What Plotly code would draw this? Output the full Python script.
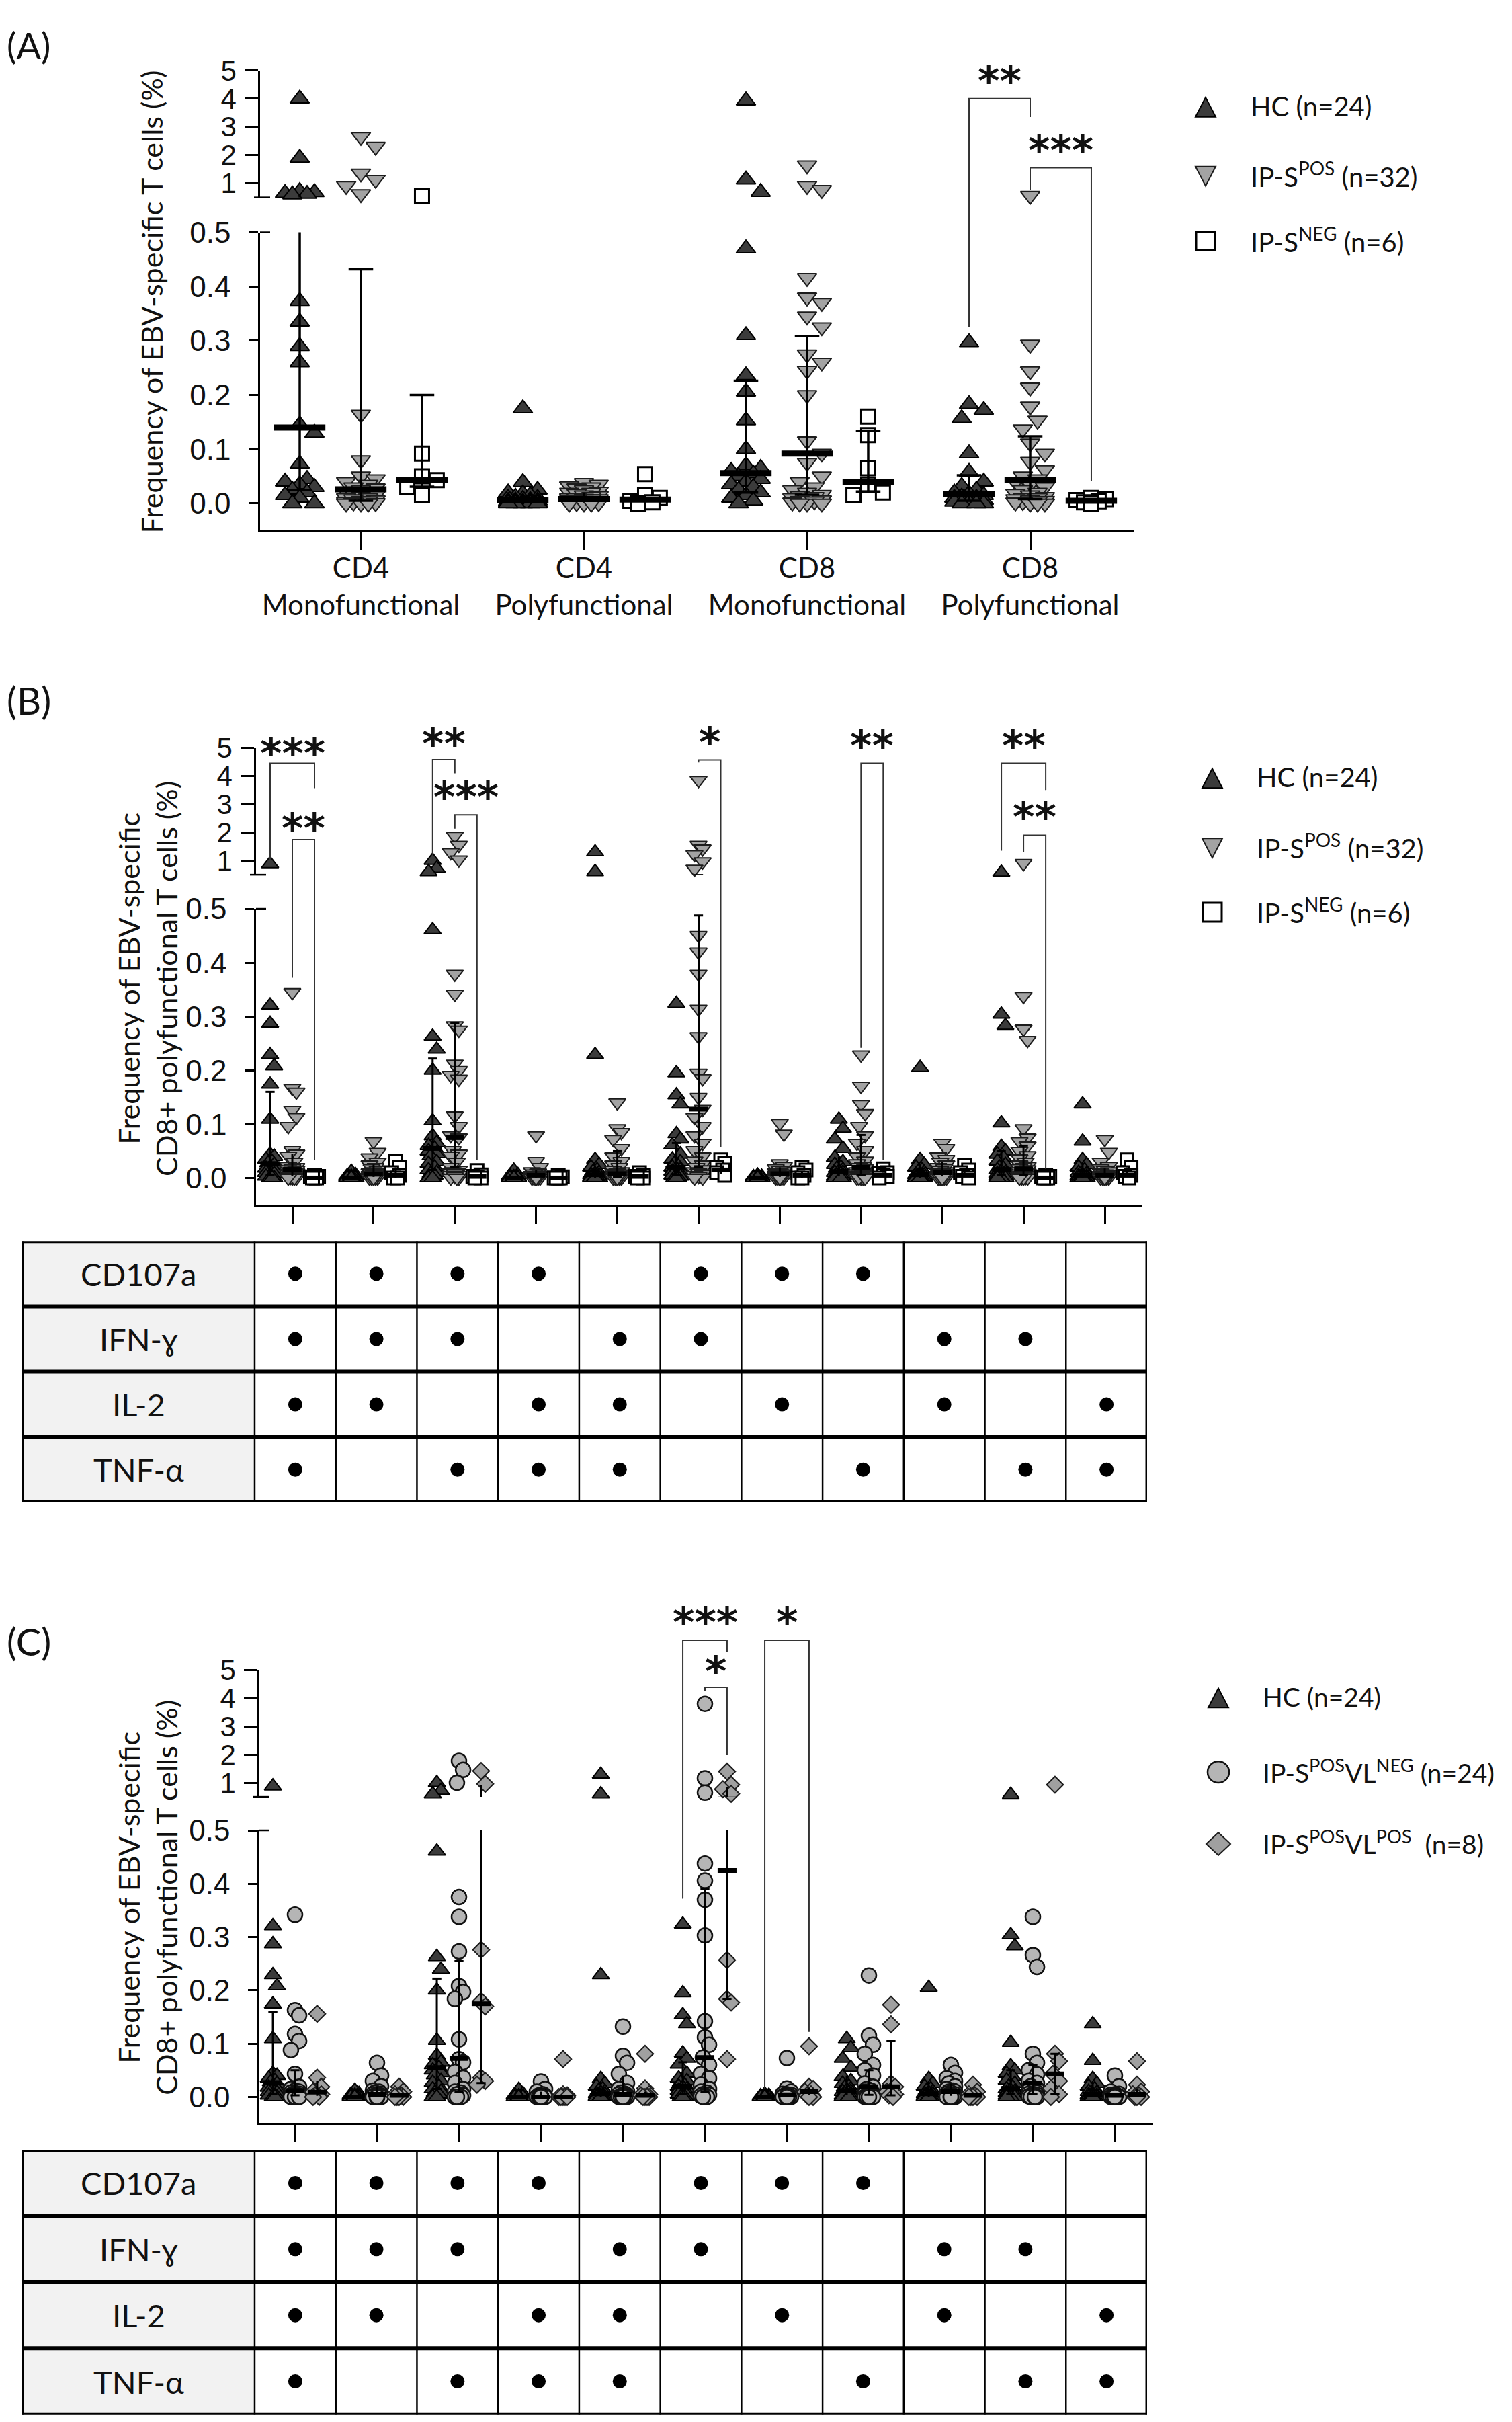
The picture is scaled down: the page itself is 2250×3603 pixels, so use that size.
import math
import plotly.graph_objects as go

W, H = 2250, 3603

# ---------------------------------------------------------------
# values (frequency of EBV-specific T cells, %)
# ---------------------------------------------------------------
A_CATS = ["CD4<br>Monofunctional", "CD4<br>Polyfunctional",
          "CD8<br>Monofunctional", "CD8<br>Polyfunctional"]

A_HC = [
    [4.0, 1.9, 0.72, 0.68, 0.65, 0.62, 0.6, 0.373, 0.335, 0.29, 0.26, 0.145, 0.13, 0.073,
     0.045, 0.04, 0.035, 0.03, 0.025, 0.02, 0.015, 0.01, 0.0, 0.0],
    [0.175, 0.039, 0.025, 0.02, 0.018, 0.015, 0.012, 0.01, 0.01, 0.008, 0.006, 0.005,
     0.005, 0.004, 0.003, 0.003, 0.002, 0.002, 0.001, 0.0, 0.0, 0.0, 0.0, 0.0],
    [3.93, 1.13, 0.69, 0.47, 0.31, 0.236, 0.206, 0.153, 0.1, 0.07, 0.065, 0.06, 0.055,
     0.05, 0.045, 0.04, 0.035, 0.03, 0.025, 0.02, 0.015, 0.01, 0.005, 0.0],
    [0.297, 0.183, 0.172, 0.157, 0.092, 0.058, 0.04, 0.032, 0.025, 0.02, 0.018, 0.015,
     0.012, 0.01, 0.01, 0.008, 0.006, 0.005, 0.004, 0.003, 0.002, 0.0, 0.0, 0.0],
]
A_POS = [
    [2.65, 2.3, 1.35, 1.13, 0.91, 0.62, 0.164, 0.08, 0.05, 0.045, 0.04, 0.035, 0.03, 0.028,
     0.025, 0.022, 0.02, 0.018, 0.015, 0.012, 0.01, 0.01, 0.008, 0.006, 0.005, 0.004,
     0.003, 0.002, 0.001, 0.0, 0.0, 0.0],
    [0.038, 0.035, 0.032, 0.03, 0.028, 0.025, 0.022, 0.02, 0.02, 0.018, 0.015, 0.014,
     0.012, 0.01, 0.01, 0.009, 0.008, 0.008, 0.007, 0.006, 0.005, 0.005, 0.004, 0.003,
     0.003, 0.002, 0.002, 0.001, 0.001, 0.0, 0.0, 0.0],
    [1.64, 0.91, 0.77, 0.416, 0.38, 0.37, 0.345, 0.325, 0.275, 0.26, 0.245, 0.2, 0.115,
     0.092, 0.075, 0.05, 0.04, 0.03, 0.025, 0.02, 0.016, 0.014, 0.012, 0.01, 0.008, 0.006,
     0.005, 0.004, 0.002, 0.0, 0.0, 0.0],
    [0.56, 0.293, 0.244, 0.214, 0.179, 0.153, 0.137, 0.111, 0.092, 0.077, 0.062, 0.05,
     0.045, 0.04, 0.035, 0.03, 0.025, 0.02, 0.018, 0.015, 0.012, 0.01, 0.01, 0.008, 0.006,
     0.005, 0.004, 0.003, 0.002, 0.0, 0.0, 0.0],
]
A_NEG = [
    [0.56, 0.092, 0.05, 0.043, 0.031, 0.016],
    [0.054, 0.015, 0.01, 0.005, 0.002, 0.0],
    [0.16, 0.126, 0.065, 0.035, 0.02, 0.016],
    [0.01, 0.008, 0.006, 0.004, 0.002, 0.0],
]
A_HC_MED = [0.14, 0.006, 0.056, 0.018]
A_HC_Q1 = [0.025, 0.0, 0.02, 0.005]
A_HC_Q3 = [0.62, 0.015, 0.226, 0.052]
A_POS_MED = [0.026, 0.008, 0.092, 0.043]
A_POS_Q1 = [0.005, 0.002, 0.016, 0.008]
A_POS_Q3 = [0.432, 0.02, 0.309, 0.124]
A_NEG_MED = [0.043, 0.007, 0.039, 0.005]
A_NEG_Q1 = [0.031, 0.002, 0.022, 0.002]
A_NEG_Q3 = [0.2, 0.012, 0.134, 0.008]

# panels B and C: 11 cytokine combinations; the HC column is the same in both
B_HC = [
    [0.88, 0.321, 0.287, 0.229, 0.208, 0.174, 0.109, 0.044, 0.04, 0.035, 0.03, 0.028,
     0.025, 0.02, 0.018, 0.015, 0.012, 0.01, 0.008, 0.005, 0.003, 0.0, 0.0, 0.0],
    [0.012, 0.006, 0.004, 0.003, 0.002, 0.002, 0.001, 0.001, 0.0, 0.0, 0.0, 0.0, 0.0, 0.0,
     0.0, 0.0, 0.0, 0.0, 0.0, 0.0, 0.0, 0.0, 0.0, 0.0],
    [1.0, 0.72, 0.6, 0.461, 0.263, 0.239, 0.2, 0.106, 0.078, 0.065, 0.06, 0.055, 0.05,
     0.045, 0.041, 0.03, 0.027, 0.02, 0.015, 0.01, 0.008, 0.005, 0.0, 0.0],
    [0.014, 0.006, 0.004, 0.002, 0.001, 0.0, 0.0, 0.0, 0.0, 0.0, 0.0, 0.0, 0.0, 0.0, 0.0,
     0.0, 0.0, 0.0, 0.0, 0.0, 0.0, 0.0, 0.0, 0.0],
    [1.3, 0.6, 0.229, 0.034, 0.025, 0.02, 0.015, 0.012, 0.01, 0.008, 0.006, 0.005, 0.004,
     0.003, 0.002, 0.001, 0.0, 0.0, 0.0, 0.0, 0.0, 0.0, 0.0, 0.0],
    [0.324, 0.195, 0.154, 0.137, 0.082, 0.072, 0.061, 0.044, 0.035, 0.03, 0.027, 0.022,
     0.02, 0.018, 0.015, 0.012, 0.01, 0.008, 0.005, 0.004, 0.003, 0.0, 0.0, 0.0],
    [0.005, 0.003, 0.002, 0.001, 0.0, 0.0, 0.0, 0.0, 0.0, 0.0, 0.0, 0.0, 0.0, 0.0, 0.0,
     0.0, 0.0, 0.0, 0.0, 0.0, 0.0, 0.0, 0.0, 0.0],
    [0.109, 0.092, 0.072, 0.055, 0.038, 0.03, 0.025, 0.02, 0.018, 0.015, 0.012, 0.01,
     0.01, 0.008, 0.006, 0.005, 0.004, 0.003, 0.002, 0.001, 0.0, 0.0, 0.0, 0.0],
    [0.205, 0.034, 0.025, 0.02, 0.015, 0.012, 0.01, 0.008, 0.006, 0.005, 0.004, 0.003,
     0.002, 0.001, 0.0, 0.0, 0.0, 0.0, 0.0, 0.0, 0.0, 0.0, 0.0, 0.0],
    [0.58, 0.304, 0.283, 0.102, 0.058, 0.05, 0.044, 0.038, 0.031, 0.025, 0.02, 0.018,
     0.015, 0.012, 0.01, 0.008, 0.006, 0.005, 0.003, 0.002, 0.0, 0.0, 0.0, 0.0],
    [0.137, 0.068, 0.034, 0.025, 0.02, 0.015, 0.01, 0.008, 0.005, 0.004, 0.003, 0.002,
     0.001, 0.0, 0.0, 0.0, 0.0, 0.0, 0.0, 0.0, 0.0, 0.0, 0.0, 0.0],
]
B_POS = [
    [0.345, 0.167, 0.16, 0.126, 0.113, 0.096, 0.051, 0.045, 0.041, 0.03, 0.022, 0.02, 0.018,
     0.016, 0.015, 0.013, 0.012, 0.01, 0.01, 0.008, 0.007, 0.006, 0.005, 0.004, 0.003,
     0.002, 0.002, 0.001, 0.0, 0.0, 0.0, 0.0],
    [0.068, 0.048, 0.038, 0.03, 0.025, 0.02, 0.018, 0.015, 0.012, 0.01, 0.01, 0.008, 0.008,
     0.007, 0.006, 0.005, 0.005, 0.004, 0.004, 0.003, 0.003, 0.002, 0.002, 0.001, 0.001,
     0.0, 0.0, 0.0, 0.0, 0.0, 0.0, 0.0],
    [1.87, 1.55, 1.29, 1.03, 0.379, 0.342, 0.283, 0.275, 0.212, 0.2, 0.191, 0.184, 0.116,
     0.096, 0.079, 0.075, 0.051, 0.045, 0.041, 0.03, 0.02, 0.015, 0.012, 0.01, 0.01, 0.008,
     0.005, 0.005, 0.003, 0.0, 0.0, 0.0],
    [0.079, 0.031, 0.02, 0.012, 0.01, 0.008, 0.006, 0.005, 0.005, 0.004, 0.003, 0.003,
     0.002, 0.002, 0.001, 0.001, 0.0, 0.0, 0.0, 0.0, 0.0, 0.0, 0.0, 0.0, 0.0, 0.0, 0.0,
     0.0, 0.0, 0.0, 0.0, 0.0],
    [0.14, 0.092, 0.085, 0.072, 0.055, 0.04, 0.031, 0.025, 0.02, 0.015, 0.012, 0.01, 0.009,
     0.008, 0.007, 0.006, 0.005, 0.005, 0.004, 0.003, 0.003, 0.002, 0.002, 0.001, 0.001,
     0.0, 0.0, 0.0, 0.0, 0.0, 0.0, 0.0],
    [3.85, 1.55, 1.42, 1.22, 0.96, 0.7, 0.451, 0.42, 0.379, 0.314, 0.263, 0.195, 0.185,
     0.15, 0.128, 0.113, 0.096, 0.079, 0.065, 0.051, 0.04, 0.032, 0.025, 0.02, 0.016,
     0.012, 0.01, 0.007, 0.005, 0.003, 0.0, 0.0],
    [0.102, 0.082, 0.027, 0.022, 0.018, 0.015, 0.012, 0.01, 0.01, 0.008, 0.007, 0.006,
     0.005, 0.005, 0.004, 0.004, 0.003, 0.003, 0.002, 0.002, 0.001, 0.001, 0.0, 0.0, 0.0,
     0.0, 0.0, 0.0, 0.0, 0.0, 0.0, 0.0],
    [0.229, 0.171, 0.137, 0.12, 0.096, 0.079, 0.065, 0.051, 0.04, 0.032, 0.027, 0.022, 0.02,
     0.018, 0.015, 0.012, 0.01, 0.009, 0.008, 0.007, 0.006, 0.005, 0.004, 0.003, 0.002,
     0.002, 0.001, 0.0, 0.0, 0.0, 0.0, 0.0],
    [0.065, 0.055, 0.04, 0.035, 0.03, 0.025, 0.02, 0.018, 0.015, 0.012, 0.01, 0.01, 0.009,
     0.008, 0.007, 0.006, 0.005, 0.005, 0.004, 0.003, 0.003, 0.002, 0.002, 0.001, 0.001,
     0.0, 0.0, 0.0, 0.0, 0.0, 0.0, 0.0],
    [0.9, 0.338, 0.277, 0.256, 0.092, 0.075, 0.068, 0.06, 0.05, 0.042, 0.036, 0.03, 0.025,
     0.022, 0.02, 0.018, 0.016, 0.014, 0.012, 0.01, 0.009, 0.008, 0.006, 0.005, 0.004,
     0.003, 0.002, 0.001, 0.0, 0.0, 0.0, 0.0],
    [0.072, 0.048, 0.03, 0.022, 0.018, 0.015, 0.012, 0.01, 0.008, 0.007, 0.006, 0.005,
     0.005, 0.004, 0.003, 0.003, 0.002, 0.002, 0.001, 0.001, 0.0, 0.0, 0.0, 0.0, 0.0, 0.0,
     0.0, 0.0, 0.0, 0.0, 0.0, 0.0],
]
B_NEG = [
    [0.005, 0.003, 0.002, 0.0, 0.0, 0.0],
    [0.031, 0.02, 0.01, 0.005, 0.0, 0.0],
    [0.014, 0.006, 0.003, 0.002, 0.0, 0.0],
    [0.005, 0.002, 0.0, 0.0, 0.0, 0.0],
    [0.01, 0.005, 0.003, 0.002, 0.0, 0.0],
    [0.034, 0.027, 0.02, 0.015, 0.01, 0.005],
    [0.02, 0.015, 0.01, 0.005, 0.0, 0.0],
    [0.017, 0.01, 0.008, 0.005, 0.003, 0.0],
    [0.024, 0.015, 0.01, 0.005, 0.003, 0.0],
    [0.005, 0.003, 0.002, 0.0, 0.0, 0.0],
    [0.034, 0.02, 0.01, 0.005, 0.003, 0.0],
]
HC_MED = [0.027, 0.0, 0.055, 0.0, 0.006, 0.02, 0.0, 0.012, 0.006, 0.016, 0.005]
HC_Q1 = [0.005, 0.0, 0.015, 0.0, 0.0, 0.006, 0.0, 0.003, 0.0, 0.005, 0.0]
HC_Q3 = [0.16, 0.004, 0.222, 0.004, 0.018, 0.065, 0.002, 0.04, 0.02, 0.05, 0.024]
B_POS_MED = [0.016, 0.007, 0.075, 0.005, 0.008, 0.128, 0.008, 0.02, 0.01, 0.017, 0.005]
B_POS_Q1 = [0.004, 0.002, 0.02, 0.0, 0.002, 0.02, 0.002, 0.005, 0.003, 0.005, 0.001]
B_POS_Q3 = [0.045, 0.025, 0.287, 0.015, 0.05, 0.488, 0.02, 0.08, 0.03, 0.06, 0.018]
B_NEG_MED = [0.0, 0.005, 0.003, 0.0, 0.003, 0.015, 0.005, 0.005, 0.005, 0.0, 0.005]
B_NEG_Q1 = [0.0, 0.0, 0.0, 0.0, 0.0, 0.008, 0.0, 0.002, 0.002, 0.0, 0.002]
B_NEG_Q3 = [0.003, 0.02, 0.008, 0.003, 0.005, 0.028, 0.013, 0.01, 0.015, 0.003, 0.02]

C_VLNEG = [
    [0.342, 0.163, 0.153, 0.118, 0.105, 0.088, 0.043, 0.019, 0.015, 0.012, 0.01, 0.008,
     0.007, 0.006, 0.005, 0.004, 0.003, 0.002, 0.002, 0.001, 0.0, 0.0, 0.0, 0.0],
    [0.064, 0.04, 0.03, 0.02, 0.012, 0.01, 0.008, 0.006, 0.005, 0.005, 0.004, 0.003, 0.002,
     0.002, 0.001, 0.0, 0.0, 0.0, 0.0, 0.0, 0.0, 0.0, 0.0, 0.0],
    [1.78, 1.46, 1.0, 0.375, 0.338, 0.273, 0.208, 0.197, 0.184, 0.108, 0.071, 0.065, 0.047,
     0.036, 0.026, 0.015, 0.01, 0.008, 0.005, 0.003, 0.0, 0.0, 0.0, 0.0],
    [0.029, 0.015, 0.01, 0.005, 0.003, 0.002, 0.001, 0.0, 0.0, 0.0, 0.0, 0.0, 0.0, 0.0,
     0.0, 0.0, 0.0, 0.0, 0.0, 0.0, 0.0, 0.0, 0.0, 0.0],
    [0.132, 0.077, 0.064, 0.043, 0.026, 0.015, 0.01, 0.008, 0.006, 0.005, 0.004, 0.003,
     0.002, 0.001, 0.0, 0.0, 0.0, 0.0, 0.0, 0.0, 0.0, 0.0, 0.0, 0.0],
    [3.8, 1.16, 0.65, 0.438, 0.406, 0.37, 0.303, 0.142, 0.112, 0.098, 0.074, 0.06, 0.043,
     0.035, 0.023, 0.015, 0.01, 0.008, 0.005, 0.004, 0.003, 0.002, 0.0, 0.0],
    [0.073, 0.016, 0.01, 0.006, 0.005, 0.004, 0.003, 0.002, 0.001, 0.0, 0.0, 0.0, 0.0,
     0.0, 0.0, 0.0, 0.0, 0.0, 0.0, 0.0, 0.0, 0.0, 0.0, 0.0],
    [0.228, 0.115, 0.098, 0.081, 0.06, 0.05, 0.04, 0.025, 0.019, 0.015, 0.012, 0.01, 0.008,
     0.006, 0.005, 0.004, 0.003, 0.002, 0.001, 0.0, 0.0, 0.0, 0.0, 0.0],
    [0.06, 0.045, 0.035, 0.03, 0.025, 0.02, 0.015, 0.012, 0.01, 0.01, 0.008, 0.006, 0.005,
     0.004, 0.003, 0.002, 0.001, 0.0, 0.0, 0.0, 0.0, 0.0, 0.0, 0.0],
    [0.338, 0.266, 0.244, 0.081, 0.064, 0.05, 0.042, 0.03, 0.026, 0.02, 0.015, 0.012, 0.01,
     0.008, 0.006, 0.005, 0.004, 0.003, 0.002, 0.001, 0.0, 0.0, 0.0, 0.0],
    [0.04, 0.02, 0.01, 0.006, 0.005, 0.004, 0.003, 0.002, 0.001, 0.0, 0.0, 0.0, 0.0, 0.0,
     0.0, 0.0, 0.0, 0.0, 0.0, 0.0, 0.0, 0.0, 0.0, 0.0],
]
C_VLPOS = [
    [0.156, 0.036, 0.019, 0.01, 0.005, 0.003, 0.0, 0.0],
    [0.019, 0.01, 0.005, 0.003, 0.0, 0.0, 0.0, 0.0],
    [1.42, 0.96, 0.276, 0.18, 0.17, 0.036, 0.03, 0.023],
    [0.071, 0.005, 0.003, 0.0, 0.0, 0.0, 0.0, 0.0],
    [0.081, 0.016, 0.005, 0.003, 0.0, 0.0, 0.0, 0.0],
    [1.4, 0.93, 0.77, 0.61, 0.257, 0.184, 0.177, 0.071],
    [0.095, 0.019, 0.015, 0.01, 0.005, 0.003, 0.0, 0.0],
    [0.173, 0.136, 0.025, 0.019, 0.01, 0.005, 0.003, 0.0],
    [0.023, 0.01, 0.005, 0.003, 0.0, 0.0, 0.0, 0.0],
    [0.93, 0.081, 0.067, 0.043, 0.03, 0.016, 0.005, 0.0],
    [0.067, 0.023, 0.01, 0.005, 0.003, 0.0, 0.0, 0.0],
]
C_VLNEG_MED = [0.012, 0.005, 0.072, 0.0, 0.005, 0.074, 0.004, 0.019, 0.01, 0.026, 0.003]
C_VLNEG_Q1 = [0.003, 0.001, 0.01, 0.0, 0.001, 0.009, 0.0, 0.004, 0.002, 0.006, 0.0]
C_VLNEG_Q3 = [0.05, 0.02, 0.255, 0.01, 0.04, 0.39, 0.008, 0.05, 0.025, 0.06, 0.008]
C_VLPOS_MED = [0.009, 0.003, 0.175, 0.0, 0.003, 0.425, 0.01, 0.019, 0.003, 0.043, 0.005]
C_VLPOS_Q1 = [0.002, 0.0, 0.026, 0.0, 0.0, 0.184, 0.003, 0.003, 0.0, 0.005, 0.0]
C_VLPOS_Q3 = [0.03, 0.008, 0.93, 0.003, 0.01, 0.85, 0.017, 0.105, 0.008, 0.081, 0.015]

TABLE_ROWS = ["CD107a", "IFN-ɣ", "IL-2", "TNF-α"]
TABLE_DOTS = [
    [1, 1, 1, 1, 0, 1, 1, 1, 0, 0, 0],
    [1, 1, 1, 0, 1, 1, 0, 0, 1, 1, 0],
    [1, 1, 0, 1, 1, 0, 1, 0, 1, 0, 1],
    [1, 0, 1, 1, 1, 0, 0, 1, 0, 1, 1],
]

LEGEND_AB = ["HC (n=24)", "IP-S<sup>POS</sup> (n=32)", "IP-S<sup>NEG</sup> (n=6)"]
LEGEND_C = ["HC (n=24)", "IP-S<sup>POS</sup>VL<sup>NEG</sup> (n=24)",
            "IP-S<sup>POS</sup>VL<sup>POS</sup> \u00a0(n=8)"]

# brackets: (category, left group, right group, top, left end, right end, stars, star level)
BRACKETS_A = [
    (3, 0, 1, 4.0, 0.325, 3.35, "**", 5.0),
    (3, 1, 2, 1.55, 0.77, 0.042, "***", 2.55),
]
BRACKETS_B = [
    (0, 0, 2, 4.45, 1.03, 3.57, "***", 5.2),
    (0, 1, 2, 1.74, 0.372, 0.034, "**", 2.52),
    (2, 0, 1, 4.58, 1.22, 4.09, "**", 5.52),
    (2, 1, 2, 2.62, 2.13, 0.034, "***", 3.63),
    (5, 1, 2, 4.57, 4.48, 0.058, "*", 5.56),
    (7, 1, 2, 4.45, 0.242, 0.034, "**", 5.46),
    (9, 0, 2, 4.45, 1.35, 3.5, "**", 5.46),
    (9, 1, 2, 1.9, 1.29, 0.017, "**", 2.92),
]
BRACKETS_C = [
    (5, 0, 2, 6.06, 0.372, 5.63, "***", 7.06),
    (5, 1, 2, 4.39, 4.26, 1.98, "*", 5.33),
    (6, 0, 2, 6.06, 0.016, 0.122, "*", 7.06),
]

# ---------------------------------------------------------------
# page geometry (pixels of the 2250 x 3603 page)
# ---------------------------------------------------------------
GEOM = {
    "A": dict(x0=391, x1=1691, c0=541, cw=332.0, top=105, brk=294, ltop=346, zero=750,
              bot=790, xa="x", yu="y", yl="y2", goff=0.274, spread=0.066,
              ms=25, sq=21, hit=26, bar=0.23, barw=9, wl=3.5),
    "B": dict(x0=385, x1=1703, c0=439, cw=120.9, top=1114, brk=1303, ltop=1354,
              zero=1755, bot=1795, xa="x2", yu="y3", yl="y4", goff=0.273, spread=0.05,
              ms=22, sq=19, hit=23, bar=0.23, barw=7, wl=3),
    "C": dict(x0=390, x1=1720, c0=443, cw=122.0, top=2488, brk=2677, ltop=2727,
              zero=3124, bot=3163, xa="x3", yu="y5", yl="y6", goff=0.27, spread=0.05,
              ms=22, sq=19, hit=23, bar=0.23, barw=7, wl=3),
}
# where the plot lands on the captured page (margin of the html body etc.)
OFF_X, OFF_Y, SCALE_Y = 12, 33, 0.9937

CAL = "Lato, 'Open Sans', sans-serif"
ARIAL = "'Liberation Sans', Arial, sans-serif"
INK = "#111111"

STYLE = {
    "hc": dict(symbol="triangle-up", color="#3b3b3b", line="#000000", lw=2),
    "pos": dict(symbol="triangle-down", color="#a3a3a3", line="#1c1c1c", lw=2),
    "neg": dict(symbol="square", color="#ffffff", line="#000000", lw=3),
    "vlneg": dict(symbol="circle", color="#b5b5b5", line="#111111", lw=2.5),
    "vlpos": dict(symbol="diamond", color="#a0a0a0", line="#1c1c1c", lw=2),
}


def px(x):
    return max(0.0, (x - OFF_X) / W)


def py(y):
    return min(1.0, 1 - (y - OFF_Y) / SCALE_Y / H)


def axname(ref):
    return ref[0] + "axis" + ref[1:]


def ypx(g, v):
    if v > 0.5:
        return g["brk"] - (v - 0.5) / 4.5 * (g["brk"] - g["top"])
    return g["zero"] - v / 0.5 * (g["zero"] - g["ltop"])


def swarm(g, vals):
    # bounded beeswarm: spread overlapping points sideways within the column
    lim = g["spread"] * g["cw"]
    cands = [0.0, lim / 2, -lim / 2, lim, -lim]
    placed, offs = [], []
    for v in vals:
        yp = ypx(g, v)
        best, best_d = 0.0, -1.0
        for c in cands:
            d = min((math.hypot(c - a, yp - b) for a, b in placed), default=1e9)
            if d >= g["hit"] * 0.9:
                best = c
                break
            if d > best_d:
                best, best_d = c, d
        placed.append((best, yp))
        offs.append(best / g["cw"])
    return offs


fig = go.Figure()
shapes, annotations, lay = [], [], {}


def add_points(g, data, gi, key):
    st = STYLE[key]
    size = {"neg": g["sq"], "vlneg": g["ms"], "vlpos": g["ms"] - 3}.get(key, g["ms"])
    off = g["goff"] * (gi - 1)
    xu, yu, xl, yl = [], [], [], []
    for i, vals in enumerate(data):
        vals = sorted(vals, reverse=True)
        for v, o in zip(vals, swarm(g, vals)):
            if v > 0.5:
                xu.append(i + off + o)
                yu.append(v)
            else:
                xl.append(i + off + o)
                yl.append(v)
    marker = dict(symbol=st["symbol"], size=size, color=st["color"],
                  line=dict(color=st["line"], width=st["lw"]))
    for xs, ys, ya in ((xu, yu, g["yu"]), (xl, yl, g["yl"])):
        fig.add_trace(go.Scatter(x=xs, y=ys, xaxis=g["xa"], yaxis=ya, mode="markers",
                                 marker=marker, cliponaxis=False, showlegend=False,
                                 hoverinfo="skip"))


def add_summary(g, gi, med, q1, q3):
    off = g["goff"] * (gi - 1)
    xs, ys, bx, by = [], [], [], []
    for i in range(len(med)):
        xc = i + off
        if q3[i] > q1[i]:
            xs += [xc, xc, None]
            ys += [q1[i], q3[i], None]
        if q3[i] - q1[i] >= 0.045:
            for q in (q1[i], q3[i]):
                if q <= 0.5:
                    xs += [xc - 0.055, xc + 0.055, None]
                    ys += [q, q, None]
        bx += [xc - g["bar"] / 2, xc + g["bar"] / 2, None]
        by += [med[i], med[i], None]
    for ya in (g["yu"], g["yl"]):
        fig.add_trace(go.Scatter(x=xs, y=ys, xaxis=g["xa"], yaxis=ya, mode="lines",
                                 line=dict(color="#000000", width=g["wl"]),
                                 showlegend=False, hoverinfo="skip"))
        fig.add_trace(go.Scatter(x=bx, y=by, xaxis=g["xa"], yaxis=ya, mode="lines",
                                 line=dict(color="#000000", width=g["barw"]),
                                 showlegend=False, hoverinfo="skip"))


def add_axes(g, ncat, labels):
    lo_min = -(g["bot"] - g["zero"]) / (g["zero"] - g["ltop"]) * 0.5
    xa = dict(
        domain=[px(g["x0"]), px(g["x1"])],
        range=[(g["x0"] - g["c0"]) / g["cw"], (g["x1"] - g["c0"]) / g["cw"]],
        anchor=g["yl"], showline=True, linecolor="#000000", linewidth=2.5,
        ticks="outside", ticklen=26, tickwidth=2.5, tickcolor="#000000",
        tickvals=list(range(ncat)), showticklabels=bool(labels),
        showgrid=False, zeroline=False)
    if labels:
        xa.update(ticktext=labels, tickfont=dict(family=CAL, size=42, color=INK),
                  ticklabelstandoff=-8)
    lay[axname(g["xa"])] = xa
    lay[axname(g["yu"])] = dict(
        domain=[py(g["brk"]), py(g["top"])], range=[0.5, 5], anchor=g["xa"],
        showline=True, linecolor="#000000", linewidth=2.5, ticks="outside", ticklen=20,
        tickwidth=2.5, tickcolor="#000000", tickvals=[1, 2, 3, 4, 5],
        ticktext=["1", "2", "3", "4", "5"], tickfont=dict(family=ARIAL, size=42, color=INK),
        ticklabelstandoff=4, showgrid=False, zeroline=False)
    lay[axname(g["yl"])] = dict(
        domain=[py(g["bot"]), py(g["ltop"])], range=[lo_min, 0.5], anchor=g["xa"],
        showline=True, linecolor="#000000", linewidth=2.5, ticks="outside", ticklen=14,
        tickwidth=2.5, tickcolor="#000000", tickvals=[0, 0.1, 0.2, 0.3, 0.4, 0.5],
        ticktext=["0.0", "0.1", "0.2", "0.3", "0.4", "0.5"],
        tickfont=dict(family=ARIAL, size=44, color=INK), ticklabelstandoff=18,
        showgrid=False, zeroline=False)
    # break ends of the split axis
    for yv, left in ((g["brk"], 9), (g["ltop"], 0)):
        shapes.append(dict(type="line", xref="paper", yref="paper",
                           x0=px(g["x0"] - left), x1=px(g["x0"] + 15), y0=py(yv), y1=py(yv),
                           line=dict(color="#000000", width=2.5)))


def add_bracket(g, b):
    cat, gl, gr, top, lend, rend, label, ly = b
    xl = cat + g["goff"] * (gl - 1)
    xr = cat + g["goff"] * (gr - 1)
    path = (f"M{xl},{py(ypx(g, lend)):.5f} L{xl},{py(ypx(g, top)):.5f} "
            f"L{xr},{py(ypx(g, top)):.5f} L{xr},{py(ypx(g, rend)):.5f}")
    shapes.append(dict(type="path", path=path, xref=g["xa"], yref="paper",
                       line=dict(color="#333333", width=2)))
    annotations.append(dict(x=(xl + xr) / 2, xref=g["xa"], y=py(ypx(g, ly)), yref="paper",
                            text=f"<b>{label}</b>", showarrow=False, xanchor="center",
                            yanchor="middle", yshift=-16,
                            font=dict(family="DejaVu Sans", size=62, color=INK)))


def add_text(x, y, text, size, angle=0, anchor="center", vanchor="middle"):
    annotations.append(dict(x=px(x), y=py(y), xref="paper", yref="paper", text=text,
                            showarrow=False, textangle=angle, xanchor=anchor,
                            yanchor=vanchor, font=dict(family=CAL, size=size, color=INK)))


def legend_symbol(key, cx, cy):
    st = STYLE[key]
    line = dict(color=st["line"], width=st["lw"])

    def path(pts):
        return "M" + " L".join(f"{px(a):.5f},{py(b):.5f}" for a, b in pts) + " Z"

    if key == "hc":
        shapes.append(dict(type="path", xref="paper", yref="paper", fillcolor=st["color"],
                           line=line, path=path([(cx - 15, cy + 14), (cx + 15, cy + 14),
                                                 (cx, cy - 15)])))
    elif key == "pos":
        shapes.append(dict(type="path", xref="paper", yref="paper", fillcolor=st["color"],
                           line=line, path=path([(cx - 15, cy - 14), (cx + 15, cy - 14),
                                                 (cx, cy + 15)])))
    elif key == "neg":
        shapes.append(dict(type="rect", xref="paper", yref="paper", fillcolor=st["color"],
                           line=line, x0=px(cx - 14), x1=px(cx + 14), y0=py(cy + 14),
                           y1=py(cy - 14)))
    elif key == "vlneg":
        shapes.append(dict(type="circle", xref="paper", yref="paper", fillcolor=st["color"],
                           line=line, x0=px(cx - 16), x1=px(cx + 16), y0=py(cy + 16),
                           y1=py(cy - 16)))
    else:
        shapes.append(dict(type="path", xref="paper", yref="paper", fillcolor=st["color"],
                           line=line, path=path([(cx - 18, cy), (cx, cy - 17),
                                                 (cx + 18, cy), (cx, cy + 17)])))


def add_table(xa, ya, top, bottom):
    left, labr, right = 37, 383, 1711
    colw = (right - labr) / 11
    xmin = -0.5 - (labr - left) / colw
    lay[axname(xa)] = dict(domain=[px(left), px(right)], range=[xmin, 10.5], visible=False)
    lay[axname(ya)] = dict(domain=[py(bottom), py(top)], range=[4, 0], visible=False)
    for r, lab in enumerate(TABLE_ROWS):
        shapes.append(dict(type="rect", xref=xa, yref=ya, x0=xmin, x1=-0.5, y0=r, y1=r + 1,
                           fillcolor="#f2f2f2", line=dict(width=0), layer="below"))
        annotations.append(dict(x=(xmin - 0.5) / 2, y=r + 0.5, xref=xa, yref=ya, text=lab,
                                showarrow=False, font=dict(family=CAL, size=47, color=INK)))
    for r in range(5):
        shapes.append(dict(type="line", xref=xa, yref=ya, x0=xmin, x1=10.5, y0=r, y1=r,
                           line=dict(color="#000000", width=6)))
    for k in range(11):
        shapes.append(dict(type="line", xref=xa, yref=ya, x0=k - 0.5, x1=k - 0.5, y0=0, y1=4,
                           line=dict(color="#000000", width=2.5)))
    for xv in (xmin, 10.5):
        shapes.append(dict(type="line", xref=xa, yref=ya, x0=xv, x1=xv, y0=0, y1=4,
                           line=dict(color="#000000", width=5)))
    dx, dy = [], []
    for r, row in enumerate(TABLE_DOTS):
        for c, on in enumerate(row):
            if on:
                dx.append(c)
                dy.append(r + 0.5)
    fig.add_trace(go.Scatter(x=dx, y=dy, xaxis=xa, yaxis=ya, mode="markers",
                             marker=dict(symbol="circle", size=21, color="#000000"),
                             showlegend=False, hoverinfo="skip"))


# ---------------- panel A ----------------
gA = GEOM["A"]
add_axes(gA, 4, A_CATS)
add_points(gA, A_HC, 0, "hc")
add_points(gA, A_POS, 1, "pos")
add_points(gA, A_NEG, 2, "neg")
add_summary(gA, 0, A_HC_MED, A_HC_Q1, A_HC_Q3)
add_summary(gA, 1, A_POS_MED, A_POS_Q1, A_POS_Q3)
add_summary(gA, 2, A_NEG_MED, A_NEG_Q1, A_NEG_Q3)
for b in BRACKETS_A:
    add_bracket(gA, b)

# ---------------- panel B ----------------
gB = GEOM["B"]
add_axes(gB, 11, None)
add_points(gB, B_HC, 0, "hc")
add_points(gB, B_POS, 1, "pos")
add_points(gB, B_NEG, 2, "neg")
add_summary(gB, 0, HC_MED, HC_Q1, HC_Q3)
add_summary(gB, 1, B_POS_MED, B_POS_Q1, B_POS_Q3)
add_summary(gB, 2, B_NEG_MED, B_NEG_Q1, B_NEG_Q3)
for b in BRACKETS_B:
    add_bracket(gB, b)
add_table("x4", "y7", 1849, 2238)

# ---------------- panel C ----------------
gC = GEOM["C"]
add_axes(gC, 11, None)
add_points(gC, B_HC, 0, "hc")
add_points(gC, C_VLNEG, 1, "vlneg")
add_points(gC, C_VLPOS, 2, "vlpos")
add_summary(gC, 0, HC_MED, HC_Q1, HC_Q3)
add_summary(gC, 1, C_VLNEG_MED, C_VLNEG_Q1, C_VLNEG_Q3)
add_summary(gC, 2, C_VLPOS_MED, C_VLPOS_Q1, C_VLPOS_Q3)
for b in BRACKETS_C:
    add_bracket(gC, b)
add_table("x5", "y8", 3203, 3597)

# ---------------- legends, titles, panel letters ----------------
for key, lab, y in zip(("hc", "pos", "neg"), LEGEND_AB, (160, 262, 359)):
    legend_symbol(key, 1798, y)
    add_text(1863, y - 2, lab, 40, anchor="left")
for key, lab, y in zip(("hc", "pos", "neg"), LEGEND_AB, (1160, 1263, 1359)):
    legend_symbol(key, 1808, y)
    add_text(1872, y - 2, lab, 40, anchor="left")
for key, lab, y in zip(("hc", "vlneg", "vlpos"), LEGEND_C, (2530, 2640, 2747)):
    legend_symbol(key, 1817, y)
    add_text(1881, y - 2, lab, 39, anchor="left")

add_text(229, 450, "Frequency of EBV-specific T cells (%)", 43, angle=-90)
add_text(224, 1458, "Frequency of EBV-specific<br>CD8+ polyfunctional T cells (%)", 43, angle=-90)
add_text(224, 2827, "Frequency of EBV-specific<br>CD8+ polyfunctional T cells (%)", 43, angle=-90)
add_text(OFF_X, 0, "(A)", 54, anchor="left", vanchor="top")
add_text(OFF_X, 1043, "(B)", 56, anchor="left")
add_text(OFF_X, 2445, "(C)", 56, anchor="left")

fig.update_layout(width=W, height=H, margin=dict(l=0, r=0, t=0, b=0), autosize=False,
                  paper_bgcolor="#ffffff", plot_bgcolor="rgba(0,0,0,0)", showlegend=False,
                  shapes=shapes, annotations=annotations, **lay)

fig.write_html("out.html")
